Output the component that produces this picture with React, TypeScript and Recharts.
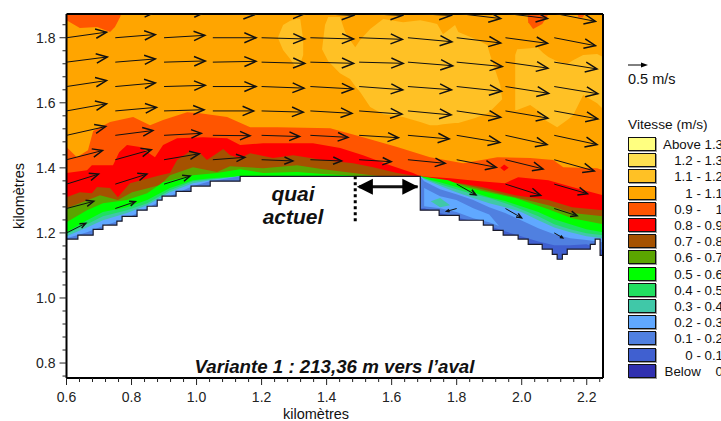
import { Area, ComposedChart, Line, ReferenceDot, ReferenceLine, Scatter, XAxis, YAxis } from 'recharts';

const X_DOMAIN = [0.6, 2.25];
const Y_DOMAIN = [0.754, 1.873];

const xTicks = [0.6, 0.64, 0.68, 0.72, 0.76, 0.8, 0.84, 0.88, 0.92, 0.96, 1.0, 1.04, 1.08, 1.12, 1.16, 1.2, 1.24, 1.28, 1.32, 1.36, 1.4, 1.44, 1.48, 1.52, 1.56, 1.6, 1.64, 1.68, 1.72, 1.76, 1.8, 1.84, 1.88, 1.92, 1.96, 2.0, 2.04, 2.08, 2.12, 2.16, 2.2, 2.24];
const yTicks = [0.76, 0.8, 0.84, 0.88, 0.92, 0.96, 1.0, 1.04, 1.08, 1.12, 1.16, 1.2, 1.24, 1.28, 1.32, 1.36, 1.4, 1.44, 1.48, 1.52, 1.56, 1.6, 1.64, 1.68, 1.72, 1.76, 1.8, 1.84];
const xLabels = [0.6, 0.8, 1.0, 1.2, 1.4, 1.6, 1.8, 2.0, 2.2];
const yLabels = [0.8, 1.0, 1.2, 1.4, 1.6, 1.8];

const legendLabels = ['Above 1.3', '1.2 - 1.3', '1.1 - 1.2', '1 - 1.1', '0.9 -    1', '0.8 - 0.9', '0.7 - 0.8', '0.6 - 0.7', '0.5 - 0.6', '0.4 - 0.5', '0.3 - 0.4', '0.2 - 0.3', '0.1 - 0.2', '0 - 0.1', 'Below    0'];
const legendColors = ['#ffff80', '#ffe050', '#ffc125', '#ffa500', '#ff5500', '#ff0000', '#a55200', '#5aa500', '#00ff00', '#20e060', '#40c8a8', '#60a8ff', '#5080e0', '#4060d0', '#3030b0'];

// upper edge of each speed band, km
const edge09X = [0.6, 0.632, 0.666, 0.682, 0.734, 0.805, 0.857, 0.897, 0.971, 1.011, 1.094, 1.165, 1.248, 1.411, 1.512, 1.617, 1.718, 1.82, 1.925, 2.026, 2.097, 2.128, 2.232, 2.25];
const edge09Y = [1.464, 1.433, 1.454, 1.513, 1.541, 1.556, 1.531, 1.547, 1.571, 1.568, 1.556, 1.525, 1.525, 1.522, 1.494, 1.464, 1.433, 1.414, 1.433, 1.43, 1.424, 1.402, 1.399, 1.393];
const edge08X = [0.6, 0.663, 0.678, 0.743, 0.762, 0.786, 0.826, 0.872, 0.897, 0.94, 1.02, 1.094, 1.134, 1.205, 1.358, 1.442, 1.512, 1.595, 1.666, 1.688, 1.78, 1.872, 1.949, 1.989, 2.082, 2.155, 2.25];
const edge08Y = [1.384, 1.393, 1.408, 1.408, 1.448, 1.47, 1.464, 1.433, 1.47, 1.491, 1.494, 1.491, 1.47, 1.476, 1.476, 1.461, 1.439, 1.408, 1.384, 1.374, 1.368, 1.359, 1.353, 1.371, 1.362, 1.341, 1.316];
const edge07X = [0.6, 0.641, 0.678, 0.694, 0.734, 0.758, 0.795, 0.888, 0.918, 0.94, 0.98, 1.011, 1.032, 1.063, 1.082, 1.103, 1.134, 1.165, 1.235, 1.297, 1.389, 1.482, 1.543, 1.617, 1.679, 1.688, 1.774, 1.878, 1.98, 2.082, 2.155, 2.25];
const edge07Y = [1.31, 1.325, 1.322, 1.341, 1.338, 1.31, 1.353, 1.377, 1.384, 1.424, 1.451, 1.445, 1.424, 1.445, 1.458, 1.439, 1.43, 1.445, 1.43, 1.439, 1.424, 1.414, 1.402, 1.384, 1.374, 1.374, 1.359, 1.341, 1.316, 1.301, 1.279, 1.27];
const edge06X = [0.6, 0.641, 0.703, 0.758, 0.802, 0.888, 0.918, 0.989, 1.063, 1.103, 1.205, 1.309, 1.389, 1.482, 1.565, 1.688, 1.826, 1.928, 1.98, 2.082, 2.155, 2.25];
const edge06Y = [1.276, 1.291, 1.316, 1.301, 1.325, 1.347, 1.377, 1.402, 1.387, 1.405, 1.399, 1.408, 1.396, 1.384, 1.374, 1.374, 1.347, 1.322, 1.31, 1.285, 1.261, 1.251];
const edge05X = [0.6, 0.663, 0.712, 0.786, 0.848, 0.897, 0.989, 1.063, 1.134, 1.205, 1.309, 1.389, 1.463, 1.503, 1.688, 1.774, 1.826, 1.909, 1.98, 2.082, 2.155, 2.25];
const edge05Y = [1.233, 1.27, 1.291, 1.301, 1.322, 1.356, 1.377, 1.384, 1.396, 1.384, 1.387, 1.381, 1.377, 1.374, 1.374, 1.362, 1.341, 1.322, 1.307, 1.273, 1.245, 1.227];
const lowEdgeX = [0.6, 0.663, 0.712, 0.786, 0.848, 0.918, 0.989, 1.042, 1.134, 1.688, 1.7, 1.749, 1.799, 1.851, 1.9, 1.949, 1.998, 2.051, 2.1, 2.149, 2.199, 2.25];
const edge04Y = [1.202, 1.239, 1.264, 1.279, 1.301, 1.338, 1.362, 1.368, 1.374, 1.374, 1.368, 1.356, 1.341, 1.325, 1.31, 1.298, 1.282, 1.264, 1.242, 1.227, 1.211, 1.202];
const edge03Y = [1.196, 1.227, 1.251, 1.27, 1.291, 1.331, 1.359, 1.365, 1.374, 1.374, 1.368, 1.35, 1.334, 1.319, 1.307, 1.291, 1.273, 1.251, 1.227, 1.211, 1.199, 1.193];
const edge02Y = [1.19, 1.217, 1.239, 1.261, 1.285, 1.325, 1.353, 1.362, 1.374, 1.374, 1.365, 1.344, 1.325, 1.307, 1.291, 1.279, 1.264, 1.239, 1.217, 1.202, 1.19, 1.184];
const edge01Y = [1.184, 1.202, 1.221, 1.245, 1.276, 1.313, 1.344, 1.359, 1.374, 1.374, 1.359, 1.334, 1.319, 1.301, 1.279, 1.261, 1.239, 1.214, 1.196, 1.184, 1.178, 1.171];
const edge00X = [1.688, 1.7, 1.749, 1.799, 1.851, 1.9, 1.949, 1.998, 2.051, 2.1, 2.149, 2.199, 2.25];
const edge00Y = [1.276, 1.276, 1.261, 1.248, 1.236, 1.221, 1.205, 1.19, 1.174, 1.162, 1.162, 1.165, 1.147];

// patches of the 1.1-1.2 band
const patchAX = [1.25, 1.266, 1.288, 1.306, 1.319, 1.328];
const patchALow = [1.8, 1.762, 1.735, 1.708, 1.72, 1.747];
const patchAHigh = [1.8, 1.839, 1.852, 1.858, 1.858, 1.793];
const patchBX = [1.386, 1.395, 1.405, 1.441, 1.457, 1.472, 1.488, 1.503, 1.534, 1.574, 1.635, 1.688, 1.718, 1.74, 1.758, 1.795, 1.805, 1.857, 1.894, 1.903, 1.934, 1.94];
const patchBLow = [1.765, 1.747, 1.728, 1.691, 1.682, 1.673, 1.651, 1.633, 1.587, 1.565, 1.556, 1.541, 1.531, 1.531, 1.534, 1.538, 1.538, 1.553, 1.568, 1.574, 1.605, 1.611];
const patchBHigh = [1.765, 1.839, 1.864, 1.864, 1.818, 1.793, 1.771, 1.793, 1.827, 1.858, 1.848, 1.854, 1.848, 1.842, 1.811, 1.839, 1.818, 1.796, 1.778, 1.747, 1.654, 1.611];
const patchCX = [1.98, 1.986, 2.026, 2.048, 2.066, 2.082, 2.109, 2.14, 2.158, 2.189, 2.232, 2.25];
const patchCLow = [1.578, 1.578, 1.593, 1.578, 1.55, 1.541, 1.525, 1.547, 1.562, 1.624, 1.599, 1.581];
const patchCHigh = [1.747, 1.765, 1.768, 1.771, 1.753, 1.741, 1.728, 1.719, 1.731, 1.747, 1.75, 1.741];

// patches of the 0.9-1 band along the top edge
const patchDX = [0.6, 0.641, 0.694, 0.734, 0.749, 0.765, 0.768];
const patchDLow = [1.854, 1.83, 1.833, 1.818, 1.833, 1.864, 1.873];
const patchDHigh = [1.873, 1.873, 1.873, 1.873, 1.873, 1.873, 1.873];
const patchEX = [2.018, 2.02, 2.035, 2.063, 2.079, 2.082];
const patchELow = [1.873, 1.848, 1.827, 1.842, 1.867, 1.873];
const patchEHigh = [1.873, 1.873, 1.873, 1.873, 1.873, 1.873];
const patchFX = [2.171, 2.175, 2.187, 2.195];
const patchFLow = [1.873, 1.862, 1.862, 1.873];
const patchFHigh = [1.873, 1.873, 1.873, 1.873];
const speckX = [1.934, 1.946, 1.96];
const speckLow = [1.4, 1.39, 1.4];
const speckHigh = [1.4, 1.41, 1.4];

// pockets inside the shallow water downstream of the quay
const pocket02X = [1.7, 1.749, 1.799, 1.851, 1.9, 1.93];
const pocket02Low = [1.282, 1.276, 1.264, 1.245, 1.233, 1.221];
const pocket02High = [1.338, 1.313, 1.301, 1.276, 1.257, 1.221];
const pocket03X = [1.72, 1.749, 1.78];
const pocket03Low = [1.297, 1.279, 1.285];
const pocket03High = [1.297, 1.307, 1.285];

// quay and bank, steps
const bankX = [0.6, 0.635, 0.682, 0.712, 0.755, 0.771, 0.817, 0.848, 0.879, 0.894, 0.937, 0.983, 1.042, 1.134, 1.688, 1.746, 1.808, 1.882, 1.912, 1.943, 1.989, 2.02, 2.063, 2.094, 2.109, 2.125, 2.14, 2.211, 2.226, 2.241, 2.25];
const bankY = [1.181, 1.193, 1.211, 1.224, 1.236, 1.251, 1.27, 1.282, 1.301, 1.313, 1.328, 1.344, 1.359, 1.374, 1.27, 1.254, 1.239, 1.224, 1.208, 1.193, 1.181, 1.165, 1.15, 1.134, 1.119, 1.134, 1.15, 1.165, 1.181, 1.131, 1.131];

// current vectors in m/s, one entry per column of arrowColumns
const arrowColumns = [0.6, 0.75, 0.9, 1.05, 1.2, 1.35, 1.5, 1.65, 1.8, 1.95, 2.1];
const arrowRows = [1.875, 1.8, 1.725, 1.65, 1.575, 1.5, 1.425, 1.35, 1.275, 1.2];
const arrowU = [
  [1.0, 1.0, 1.03, 1.05, 1.08, 1.08, 1.08, 1.08, 1.1, 1.05, 1.03],
  [1.0, 1.0, 1.02, 1.08, 1.08, 1.08, 1.08, 1.1, 1.1, 1.05, 1.03],
  [1.02, 1.0, 1.03, 1.08, 1.08, 1.08, 1.1, 1.12, 1.14, 1.06, 1.07],
  [1.0, 1.0, 1.03, 1.08, 1.06, 1.07, 1.09, 1.09, 1.12, 1.08, 1.09],
  [1.0, 1.03, 1.0, 1.02, 1.04, 1.04, 1.07, 1.08, 1.1, 1.06, 1.09],
  [0.98, 0.94, 0.93, 0.93, 0.95, 0.94, 0.98, 1.03, 1.08, 1.04, 1.07],
  [0.9, 0.9, 0.88, 0.8, 0.78, 0.78, 0.8, 0.93, 0.99, 0.94, 1.0],
  [0.8, 0.79, 0.65, null, null, null, null, null, 0.48, 0.88, 0.83],
  [0.68, 0.5, null, null, null, null, null, null, -0.25, 0.4, 0.57],
  [0.48, null, null, null, null, null, null, null, null, null, 0.21],
];
const arrowV = [
  [0.17, 0.03, 0.03, -0.03, -0.01, -0.05, -0.05, -0.05, -0.13, -0.13, -0.2],
  [0.14, 0.08, 0.06, 0, -0.03, -0.03, -0.04, -0.1, -0.13, -0.14, -0.2],
  [0.13, 0.08, 0.03, 0.02, -0.03, -0.03, -0.03, -0.09, -0.11, -0.15, -0.17],
  [0.15, 0.09, 0.03, 0, -0.04, -0.06, -0.08, -0.08, -0.12, -0.17, -0.18],
  [0.18, 0.09, 0.03, 0, -0.03, -0.06, -0.08, -0.1, -0.16, -0.18, -0.2],
  [0.22, 0.12, 0.05, -0.01, -0.03, -0.05, -0.06, -0.09, -0.18, -0.23, -0.23],
  [0.23, 0.25, 0.15, 0.06, -0.03, -0.03, -0.05, -0.09, -0.19, -0.23, -0.28],
  [0.25, 0.25, 0.2, null, null, null, null, null, -0.27, -0.28, -0.24],
  [0.18, 0.17, null, null, null, null, null, null, -0.07, -0.23, -0.18],
  [0.24, null, null, null, null, null, null, null, null, null, -0.12],
];

const FONT = '"Liberation Sans", Arial, sans-serif';
const PX_PER_MS = 40;

const rows = (xs: number[], ys: number[]) => xs.map((x, i) => ({ x, y: ys[i] }));
const ranges = (xs: number[], low: number[], high: number[]) => xs.map((x, i) => ({ x, y: [low[i], high[i]] }));

const arrowData = arrowRows.flatMap((y, r) =>
  arrowColumns.flatMap((x, c) => (arrowU[r][c] === null ? [] : [{ x, y, u: arrowU[r][c], v: arrowV[r][c] }])),
);

const bands = [
  { id: 'edge09', color: '#ff5500', data: rows(edge09X, edge09Y) },
  { id: 'edge08', color: '#ff0000', data: rows(edge08X, edge08Y) },
  { id: 'edge07', color: '#a55200', data: rows(edge07X, edge07Y) },
  { id: 'edge06', color: '#5aa500', data: rows(edge06X, edge06Y) },
  { id: 'edge05', color: '#00ff00', data: rows(edge05X, edge05Y) },
  { id: 'edge04', color: '#20e060', data: rows(lowEdgeX, edge04Y) },
  { id: 'edge03', color: '#40c8a8', data: rows(lowEdgeX, edge03Y) },
  { id: 'edge02', color: '#60a8ff', data: rows(lowEdgeX, edge02Y) },
  { id: 'edge01', color: '#5080e0', data: rows(lowEdgeX, edge01Y) },
];

const upperPatches = [
  { id: 'patchA', color: '#ffc125', data: ranges(patchAX, patchALow, patchAHigh) },
  { id: 'patchB', color: '#ffc125', data: ranges(patchBX, patchBLow, patchBHigh) },
  { id: 'patchC', color: '#ffc125', data: ranges(patchCX, patchCLow, patchCHigh) },
  { id: 'patchD', color: '#ff5500', data: ranges(patchDX, patchDLow, patchDHigh) },
  { id: 'patchE', color: '#ff5500', data: ranges(patchEX, patchELow, patchEHigh) },
  { id: 'patchF', color: '#ff5500', data: ranges(patchFX, patchFLow, patchFHigh) },
];

function VectorArrow(props: any) {
  const { cx, cy, payload } = props;
  const dx = payload.u * PX_PER_MS;
  const dy = -payload.v * PX_PER_MS;
  const len = Math.hypot(dx, dy);
  const ux = dx / len;
  const uy = dy / len;
  const back = len * 0.27;
  const side = len * 0.115;
  const tx = cx + dx;
  const ty = cy + dy;
  const head = `${tx - ux * back - uy * side},${ty - uy * back + ux * side} ${tx},${ty} ${tx - ux * back + uy * side},${ty - uy * back - ux * side}`;
  return (
    <g fill="none" stroke="#111">
      <line x1={cx} y1={cy} x2={tx} y2={ty} strokeWidth={1} />
      <polyline points={head} strokeWidth={1.5} />
    </g>
  );
}

function XTick(props: any) {
  const { x, y, payload } = props;
  const major = xLabels.includes(payload.value);
  return (
    <g>
      <line x1={x} x2={x} y1={y} y2={y + (major ? 7 : 4)} stroke="#222" />
      {major && (
        <text x={x} y={y + 24} textAnchor="middle" fontSize={14} fontFamily={FONT} fill="#222">
          {payload.value.toFixed(1)}
        </text>
      )}
    </g>
  );
}

function YTick(props: any) {
  const { x, y, payload } = props;
  const major = yLabels.includes(payload.value);
  return (
    <g>
      <line x1={x} x2={x - (major ? 7 : 4)} y1={y} y2={y} stroke="#222" />
      {major && (
        <text x={x - 11} y={y + 5} textAnchor="end" fontSize={14} fontFamily={FONT} fill="#222">
          {payload.value.toFixed(1)}
        </text>
      )}
    </g>
  );
}

const HeadLeft = (props: any) => (
  <polygon points={`${props.cx},${props.cy} ${props.cx + 16},${props.cy - 8} ${props.cx + 16},${props.cy + 8}`} fill="#000" />
);
const HeadRight = (props: any) => (
  <polygon points={`${props.cx},${props.cy} ${props.cx - 16},${props.cy - 8} ${props.cx - 16},${props.cy + 8}`} fill="#000" />
);

const overlayText = { position: 'absolute', fontFamily: FONT, color: '#111', whiteSpace: 'pre', lineHeight: 1 } as const;

export default function App() {
  return (
    <div style={{ position: 'absolute', left: 0, top: 0, width: 721, height: 421, overflow: 'hidden', background: '#fff' }}>
      <ComposedChart width={721} height={421} margin={{ top: 14, right: 118, bottom: 23, left: 10.5 }} data={rows(X_DOMAIN, [Y_DOMAIN[1], Y_DOMAIN[1]])}>
        <XAxis
          dataKey="x"
          type="number"
          domain={X_DOMAIN}
          allowDataOverflow
          ticks={xTicks}
          interval={0}
          height={20}
          tickSize={0}
          tickMargin={0}
          tick={<XTick />}
          axisLine={{ stroke: '#000', strokeWidth: 2 }}
        />
        <YAxis
          type="number"
          domain={Y_DOMAIN}
          allowDataOverflow
          ticks={yTicks}
          interval={0}
          width={56}
          tickSize={0}
          tickMargin={0}
          tick={<YTick />}
          axisLine={{ stroke: '#000', strokeWidth: 2 }}
        />

        <Area dataKey="y" stroke="none" fill="#ffa500" fillOpacity={1} isAnimationActive={false} />
        {upperPatches.map((p) => (
          <Area key={p.id} data={p.data} dataKey="y" stroke="none" fill={p.color} fillOpacity={1} isAnimationActive={false} />
        ))}
        {bands.map((b) => (
          <Area key={b.id} data={b.data} dataKey="y" stroke="none" fill={b.color} fillOpacity={1} isAnimationActive={false} />
        ))}
        <Area data={ranges(speckX, speckLow, speckHigh)} dataKey="y" stroke="none" fill="#ff0000" fillOpacity={1} isAnimationActive={false} />
        <Area data={ranges(pocket02X, pocket02Low, pocket02High)} dataKey="y" stroke="none" fill="#60a8ff" fillOpacity={1} isAnimationActive={false} />
        <Area data={ranges(pocket03X, pocket03Low, pocket03High)} dataKey="y" stroke="none" fill="#40c8a8" fillOpacity={1} isAnimationActive={false} />
        <Area data={rows(edge00X, edge00Y)} dataKey="y" stroke="none" fill="#4060d0" fillOpacity={1} isAnimationActive={false} />

        <Area data={rows(bankX, bankY)} dataKey="y" type="stepAfter" stroke="none" fill="#fff" fillOpacity={1} isAnimationActive={false} />
        <Line data={rows(bankX, bankY)} dataKey="y" type="stepAfter" stroke="#1a1a2a" strokeWidth={1.2} dot={false} isAnimationActive={false} />

        <Scatter data={arrowData} dataKey="y" shape={<VectorArrow />} isAnimationActive={false} />

        <ReferenceLine y={Y_DOMAIN[1]} stroke="#000" strokeWidth={2} />
        <ReferenceLine x={X_DOMAIN[1]} stroke="#000" strokeWidth={2} />
        <ReferenceLine segment={[{ x: 1.488, y: 1.374 }, { x: 1.488, y: 1.23 }]} stroke="#000" strokeWidth={3} strokeDasharray="3 3" />
        <ReferenceLine segment={[{ x: 1.5, y: 1.342 }, { x: 1.68, y: 1.342 }]} stroke="#111" strokeWidth={3} />
        <ReferenceDot x={1.493} y={1.342} shape={<HeadLeft />} />
        <ReferenceDot x={1.682} y={1.342} shape={<HeadRight />} />
      </ComposedChart>

      <div style={{ ...overlayText, left: 283, top: 407, fontSize: 14.5 }}>kilomètres</div>
      <div style={{ ...overlayText, left: 19, top: 196, fontSize: 14.5, transform: 'translate(-50%, -50%) rotate(-90deg)' }}>kilomètres</div>
      <div style={{ ...overlayText, left: 243, width: 100, top: 181.6, fontSize: 21, fontWeight: 700, fontStyle: 'italic', textAlign: 'center', lineHeight: '23px' }}>
        {'quai\nactuel'}
      </div>
      <div style={{ ...overlayText, left: 134.5, width: 400, top: 357.5, fontSize: 18.7, fontWeight: 700, fontStyle: 'italic', textAlign: 'center' }}>
        Variante 1 : 213,36 m vers l’aval
      </div>

      <svg style={{ position: 'absolute', left: 628, top: 60 }} width={22} height={10}>
        <line x1={0} y1={5} x2={15} y2={5} stroke="#000" strokeWidth={1} />
        <polygon points="20,5 13,2.5 13,7.5" fill="#000" />
      </svg>
      <div style={{ ...overlayText, left: 628, top: 72, fontSize: 14.5 }}>0.5 m/s</div>
      <div style={{ ...overlayText, left: 628, top: 118, fontSize: 13.7 }}>Vitesse (m/s)</div>
      {legendLabels.map((label, i) => (
        <div key={label}>
          <div
            style={{
              position: 'absolute',
              left: 628,
              top: 137 + i * 16.2,
              width: 26,
              height: 12,
              background: legendColors[i],
              border: '1px solid #111',
              boxShadow: '1px 1px 0 #999',
            }}
          />
          <div style={{ ...overlayText, right: -2, top: 138 + i * 16.2, fontSize: 13.3, textAlign: 'right' }}>{label}</div>
        </div>
      ))}
    </div>
  );
}
